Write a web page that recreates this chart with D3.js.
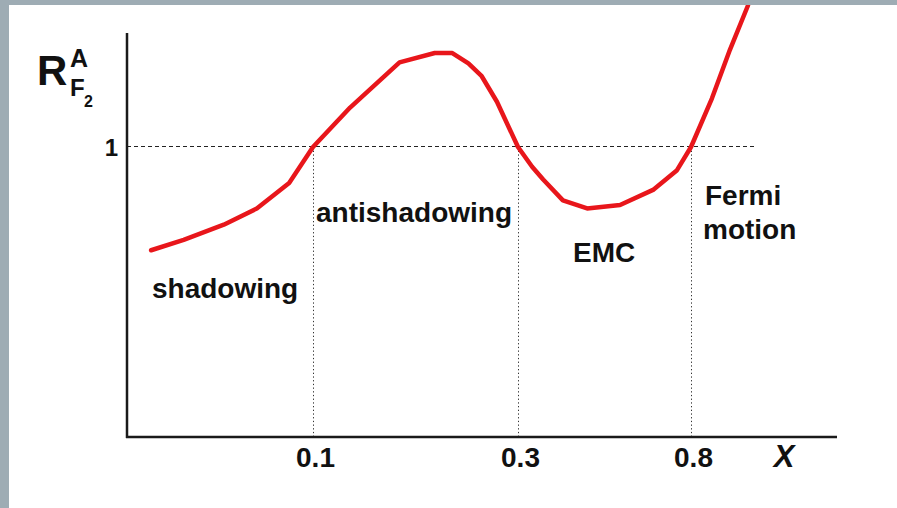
<!DOCTYPE html>
<html>
<head>
<meta charset="utf-8">
<script src="https://cdn.jsdelivr.net/npm/d3@7"></script>
<style>
  html, body { margin: 0; padding: 0; background: #fff; }
  svg { display: block; font-family: "Liberation Sans", Arial, sans-serif; }
</style>
</head>
<body>
<div id="chart"></div>
<script>
// Bjorken x values along the schematic curve
const xValues = [0.042, 0.050, 0.062, 0.074, 0.088, 0.1, 0.122, 0.159, 0.192, 0.211, 0.23, 0.247, 0.268,
                 0.3, 0.325, 0.346, 0.387, 0.444, 0.535, 0.645, 0.739, 0.8, 0.901, 0.998, 1.105];
// ratio R = F2^A / F2^D
const ratioValues = [0.911, 0.920, 0.933, 0.947, 0.969, 1.0, 1.034, 1.073, 1.081, 1.081, 1.072, 1.061, 1.039,
                     1.0, 0.983, 0.972, 0.954, 0.947, 0.950, 0.963, 0.980, 1.0, 1.042, 1.084, 1.122];
const xTicks = [0.1, 0.3, 0.8];
const xTickLabels = ["0.1", "0.3", "0.8"];
const yTicks = [1];
const yTickLabels = ["1"];
const regionNames = ["shadowing", "antishadowing", "EMC", "Fermi", "motion"];

const width = 897, height = 508;

const svg = d3.select("#chart").append("svg")
    .attr("width", width)
    .attr("height", height);

// piecewise log scale so that the tick spacing follows the sketch
const x = d3.scaleLog()
    .domain(xTicks)
    .range([313, 518, 691]);
const y = d3.scaleLinear()
    .domain([0.75, 1])
    .range([437, 147]);

const axisLeftX = 127, axisBottomY = 437;

// reference lines (half pixel offset keeps them crisp)
svg.append("line")
    .attr("x1", axisLeftX).attr("x2", 757)
    .attr("y1", y(1) - 0.5).attr("y2", y(1) - 0.5)
    .attr("stroke", "#222").attr("stroke-width", 1)
    .attr("stroke-dasharray", "4,3");

svg.selectAll(".vline")
    .data(xTicks)
    .join("line")
    .attr("class", "vline")
    .attr("x1", d => Math.round(x(d)) + 0.5).attr("x2", d => Math.round(x(d)) + 0.5)
    .attr("y1", y(1)).attr("y2", axisBottomY)
    .attr("stroke", "#333").attr("stroke-width", 1)
    .attr("stroke-dasharray", "1.3,2.4");

// the curve
const line = d3.line()
    .x(d => x(d[0]))
    .y(d => y(d[1]));

svg.append("path")
    .datum(d3.zip(xValues, ratioValues))
    .attr("d", line)
    .attr("fill", "none")
    .attr("stroke", "#e8161b")
    .attr("stroke-width", 4.5)
    .attr("stroke-linejoin", "round")
    .attr("stroke-linecap", "round");

// axes lines
svg.append("line")
    .attr("x1", axisLeftX).attr("x2", axisLeftX)
    .attr("y1", 33).attr("y2", axisBottomY + 1)
    .attr("stroke", "#1a1a1a").attr("stroke-width", 2.5);
svg.append("line")
    .attr("x1", axisLeftX - 1).attr("x2", 837)
    .attr("y1", axisBottomY).attr("y2", axisBottomY)
    .attr("stroke", "#1a1a1a").attr("stroke-width", 2.5);

// tick labels
const xAxis = svg.append("g")
    .attr("transform", `translate(2,${axisBottomY})`)
    .call(d3.axisBottom(x).tickValues(xTicks).tickSize(0).tickPadding(0)
        .tickFormat((d, i) => xTickLabels[i]));
xAxis.select(".domain").remove();
xAxis.selectAll("text")
    .attr("y", 30).attr("dy", 0)
    .style("font-size", "28px").style("font-weight", "bold")
    .style("font-family", "'Liberation Sans', Arial, sans-serif")
    .attr("fill", "#111");

const yAxis = svg.append("g")
    .attr("transform", `translate(${axisLeftX - 9},0)`)
    .call(d3.axisLeft(y).tickValues(yTicks).tickSize(0).tickPadding(0)
        .tickFormat((d, i) => yTickLabels[i]));
yAxis.select(".domain").remove();
yAxis.selectAll("text")
    .attr("dy", "0.35em")
    .style("font-size", "24px").style("font-weight", "bold")
    .style("font-family", "'Liberation Sans', Arial, sans-serif")
    .attr("fill", "#111");

// axis titles
svg.append("text")
    .attr("x", 784).attr("y", 467)
    .attr("text-anchor", "middle")
    .style("font-size", "31px").style("font-weight", "bold").style("font-style", "italic")
    .attr("fill", "#111")
    .text("X");

const yTitle = svg.append("g").attr("fill", "#111").style("font-weight", "bold");
yTitle.append("text").attr("x", 37).attr("y", 85).style("font-size", "42px").text("R");
yTitle.append("text").attr("x", 70).attr("y", 67).style("font-size", "25px").text("A");
yTitle.append("text").attr("x", 70).attr("y", 96).style("font-size", "24px").text("F");
yTitle.append("text").attr("x", 84).attr("y", 107).style("font-size", "16px").text("2");

// region labels
const labelPos = [[152, 298], [316, 222], [573, 262], [705, 205], [703, 239]];
svg.selectAll(".region")
    .data(regionNames)
    .join("text")
    .attr("class", "region")
    .attr("x", (d, i) => labelPos[i][0])
    .attr("y", (d, i) => labelPos[i][1])
    .style("font-size", "28px").style("font-weight", "bold")
    .attr("fill", "#111")
    .text(d => d);

// slide frame
svg.append("rect").attr("x", 0).attr("y", 0).attr("width", width).attr("height", 5).attr("fill", "#9eacb4");
svg.append("rect").attr("x", 0).attr("y", 0).attr("width", 9).attr("height", height).attr("fill", "#9eacb4");
</script>
</body>
</html>
